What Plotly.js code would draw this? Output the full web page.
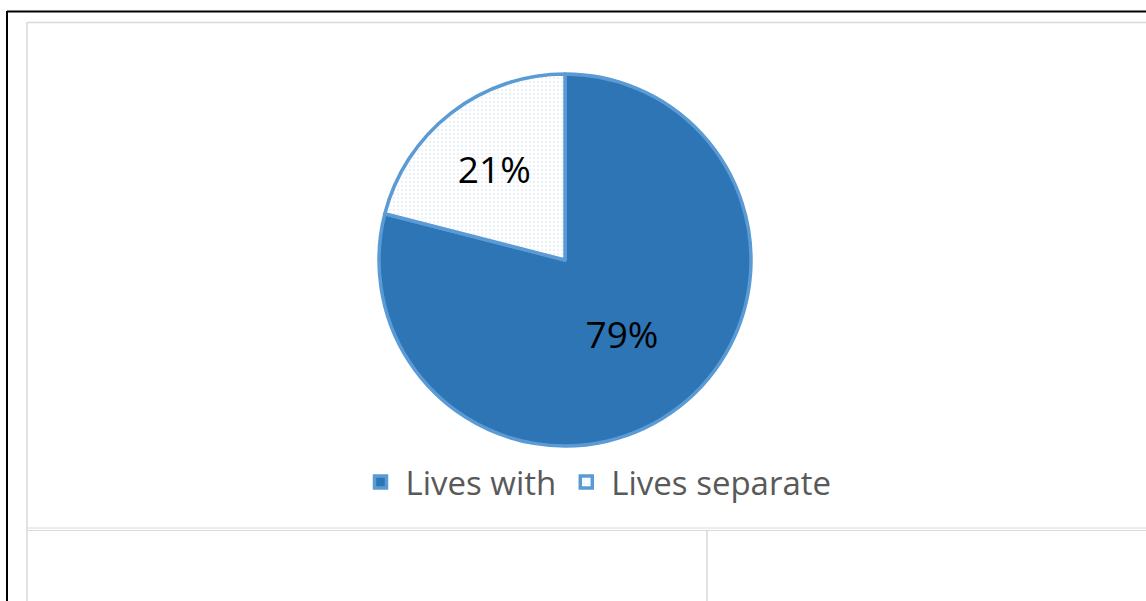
<!DOCTYPE html>
<html>
<head>
<meta charset="utf-8">
<script src="https://cdn.plot.ly/plotly-3.0.1.min.js"></script>
<style>
  html, body { margin: 0; padding: 0; background: #ffffff; }
  #chart { width: 1146px; height: 601px; }
</style>
</head>
<body>
<div id="chart"></div>
<script>
// Data
const categories = ["Lives with", "Lives separate"];
const values = [79, 21];
const sliceColors = ["#2E75B6", "#FFFFFF"];

const W = 1146, H = 601;
const px = x => x / W;
const py = y => 1 - y / H;

const trace = {
  type: "pie",
  labels: categories,
  values: values,
  sort: false,
  direction: "clockwise",
  rotation: 0,
  textinfo: "percent",
  texttemplate: "%{percent:.0%}",
  textposition: "inside",
  insidetextorientation: "horizontal",
  textfont: { family: "Open Sans, Noto Sans, sans-serif", size: 37, color: "#000000" },
  marker: {
    colors: sliceColors,
    line: { color: "#5B9BD5", width: 3.5 },
    pattern: {
      shape: ["", "."],
      fgcolor: "#D6E2F0",
      bgcolor: "#FFFFFF",
      size: 4,
      solidity: 0.25,
      fillmode: "overlay"
    }
  },
  domain: { x: [px(379), px(751)], y: [py(446), py(74)] },
  hoverinfo: "label+percent"
};

const grey = "#D9D9D9";
const shapes = [
  // outer black frame
  { type: "line", xref: "paper", yref: "paper", x0: px(7), x1: 1, y0: py(11.5), y1: py(11.5), line: { color: "#000000", width: 2 } },
  { type: "line", xref: "paper", yref: "paper", x0: px(7), x1: px(7), y0: py(11), y1: 0, line: { color: "#000000", width: 2 } },
  // inner grey table lines
  { type: "line", xref: "paper", yref: "paper", x0: px(27), x1: 1, y0: py(22.5), y1: py(22.5), line: { color: grey, width: 1.5 } },
  { type: "line", xref: "paper", yref: "paper", x0: px(27), x1: px(27), y0: py(22), y1: 0, line: { color: grey, width: 1.5 } },
  { type: "line", xref: "paper", yref: "paper", x0: px(27), x1: 1, y0: py(528), y1: py(528), line: { color: grey, width: 1.2 } },
  { type: "line", xref: "paper", yref: "paper", x0: px(27), x1: 1, y0: py(530.5), y1: py(530.5), line: { color: grey, width: 1.2 } },
  { type: "line", xref: "paper", yref: "paper", x0: px(707), x1: px(707), y0: py(530), y1: 0, line: { color: grey, width: 1.5 } }
];

const layout = {
  width: W,
  height: H,
  margin: { l: 0, r: 0, t: 0, b: 0, pad: 0 },
  paper_bgcolor: "#FFFFFF",
  plot_bgcolor: "#FFFFFF",
  showlegend: true,
  legend: {
    orientation: "h",
    x: px(596),
    xanchor: "center",
    y: py(482),
    yanchor: "middle",
    itemwidth: 40,
    font: { family: "Open Sans, Noto Sans, sans-serif", size: 33, color: "#595959" },
    itemclick: false,
    itemdoubleclick: false,
    traceorder: "normal"
  },
  shapes: shapes
};

Plotly.newPlot("chart", [trace], layout, { displayModeBar: false, staticPlot: true });
</script>
</body>
</html>
